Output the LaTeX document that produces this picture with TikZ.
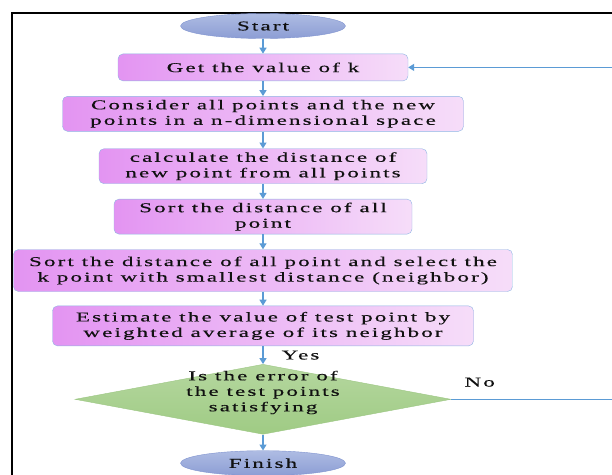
\documentclass[tikz,border=0pt]{standalone}
\usepackage{fontspec}
\setmainfont[FakeStretch=1.7,LetterSpace=16,FakeBold=0.4]{Liberation Serif}
\usepackage{xcolor}
\usetikzlibrary{positioning, arrows.meta, shapes.geometric}
\definecolor{flow}{HTML}{5B9BD5}
\definecolor{termline}{HTML}{7F93CF}
\definecolor{termtop}{HTML}{AEBCE3}
\definecolor{termbot}{HTML}{8C9DD4}
\definecolor{boxline}{HTML}{8EB4E3}
\definecolor{boxdark}{HTML}{E394F2}
\definecolor{boxlight}{HTML}{F6DDF9}
\definecolor{decline}{HTML}{9CC683}
\definecolor{dectop}{HTML}{B5D79F}
\definecolor{decbot}{HTML}{9FCB84}
\definecolor{textmain}{HTML}{111111}

\begin{document}
\begin{tikzpicture}[
    x=1pt, y=1pt,
    node distance=15pt,
    every node/.style={text=textmain, font=\fontsize{13.5}{15.5}\selectfont},
    terminal/.style={ellipse, draw=termline, top color=termtop, bottom color=termbot,
                     minimum width=165pt, minimum height=25pt, inner sep=0pt},
    process/.style={rectangle, draw=boxline, left color=boxdark, right color=boxlight,
                    rounded corners=5pt, align=center, inner sep=0pt},
    decision/.style={diamond, aspect=5.37, draw=decline, top color=dectop, bottom color=decbot,
                     minimum width=376pt, minimum height=70pt, inner sep=0pt},
    lbl/.style={inner sep=0pt},
    arrow/.style={-{Triangle[length=6pt, width=7pt]}, line width=1.3pt, flow}
  ]
    \useasboundingbox (0,0) rectangle (612,-474);
    \draw[line width=2pt] (11.5,-12.5) rectangle (700,-540);

    \node[terminal] (start) at (263,-26) {Start};
    \node[process, minimum width=290pt, minimum height=27pt, below=15pt of start] (getk) {Get the value of k};
    \node[process, minimum width=401pt, minimum height=35pt, below=15pt of getk] (consider) {Consider all points and the new\\points in a n-dimensional space};
    \node[process, minimum width=328pt, minimum height=35pt, below=17pt of consider] (calc) {calculate the distance of\\new point from all points};
    \node[process, minimum width=298pt, minimum height=35pt, below=15pt of calc] (sortall) {Sort the distance of all\\point};
    \node[process, minimum width=499pt, minimum height=42pt, below=15pt of sortall] (select) {Sort the distance of all point and select the\\k point with smallest distance (neighbor)};
    \node[process, minimum width=421pt, minimum height=40pt, below=14pt of select] (estimate) {Estimate the value of test point by\\weighted average of its neighbor};
    \node[decision, below=18pt of estimate] (check) {\raisebox{3pt}[0pt][0pt]{\begin{tabular}{@{}c@{}}Is the error of\\the test points\\satisfying\end{tabular}}};
    \node[terminal, below=16pt of check] (finish) {Finish};
    \coordinate (loopback) at ([xshift=190pt]check.east);

    \draw[arrow] (start) -- (getk);
    \draw[arrow] (getk) -- (consider);
    \draw[arrow] (consider) -- (calc);
    \draw[arrow] (calc) -- (sortall);
    \draw[arrow] (sortall) -- (select);
    \draw[arrow] (select) -- (estimate);
    \draw[arrow] (estimate) -- node[lbl, right=18pt] {Yes} (check);
    \draw[arrow] (check) -- (finish);
    \draw[arrow] (check.east) -- node[lbl, pos=0.15, above=12pt] {No} (loopback) |- (getk.east);
  \end{tikzpicture}
\end{document}
